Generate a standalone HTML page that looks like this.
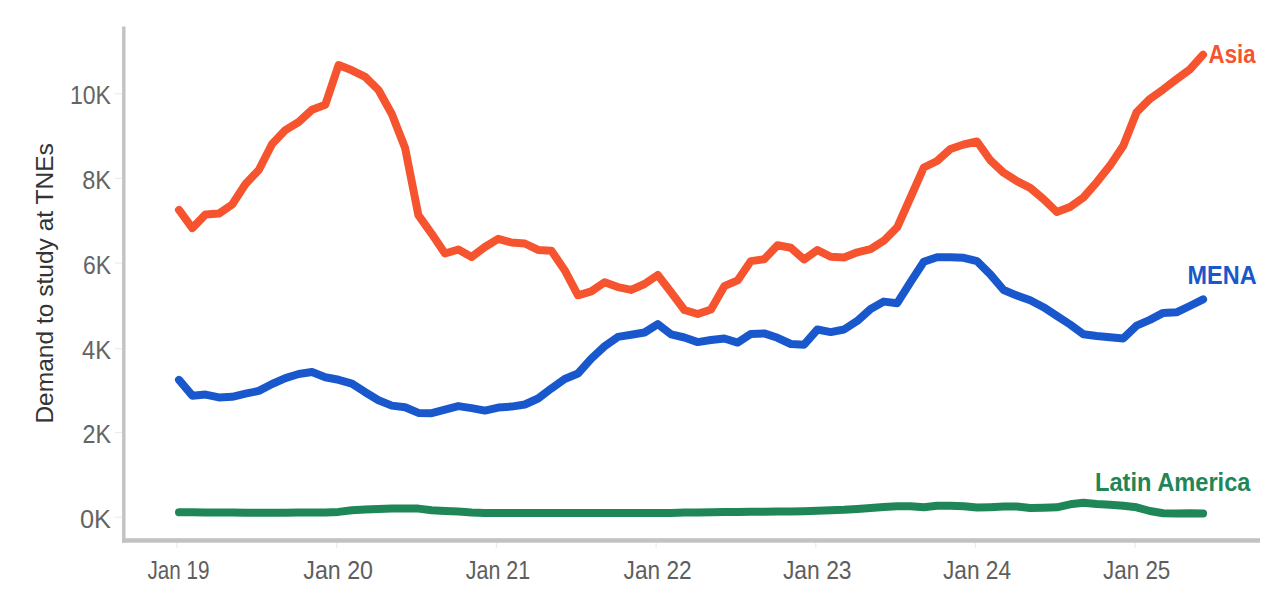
<!DOCTYPE html>
<html><head><meta charset="utf-8"><title>Demand to study at TNEs</title>
<style>
html,body{margin:0;padding:0;background:#fff;}
body{width:1280px;height:606px;overflow:hidden;}
svg{display:block;}
text{font-family:"Liberation Sans",Arial,sans-serif;}
.yl{font-size:25.4px;fill:#646464;}
.xl{font-size:25.4px;fill:#5e5e5e;}
.tt{font-size:24px;fill:#333;}
.lb{font-size:25.5px;font-weight:bold;}
</style></head><body>
<svg width="1280" height="606" viewBox="0 0 1280 606">
<line x1="115" y1="93.7" x2="122" y2="93.7" stroke="#ebebeb" stroke-width="1.2"/>
<text x="70.0" y="104.1" textLength="41" lengthAdjust="spacingAndGlyphs" class="yl">10K</text>
<line x1="115" y1="178.4" x2="122" y2="178.4" stroke="#ebebeb" stroke-width="1.2"/>
<text x="82.2" y="188.8" textLength="28.8" lengthAdjust="spacingAndGlyphs" class="yl">8K</text>
<line x1="115" y1="263.1" x2="122" y2="263.1" stroke="#ebebeb" stroke-width="1.2"/>
<text x="82.9" y="273.5" textLength="28.1" lengthAdjust="spacingAndGlyphs" class="yl">6K</text>
<line x1="115" y1="348.7" x2="122" y2="348.7" stroke="#ebebeb" stroke-width="1.2"/>
<text x="82.0" y="359.1" textLength="29" lengthAdjust="spacingAndGlyphs" class="yl">4K</text>
<line x1="115" y1="432.5" x2="122" y2="432.5" stroke="#ebebeb" stroke-width="1.2"/>
<text x="82.5" y="442.9" textLength="28.5" lengthAdjust="spacingAndGlyphs" class="yl">2K</text>
<line x1="115" y1="517.2" x2="122" y2="517.2" stroke="#ebebeb" stroke-width="1.2"/>
<text x="80.0" y="527.6" textLength="31" lengthAdjust="spacingAndGlyphs" class="yl">0K</text>
<line x1="177.0" y1="543" x2="177.0" y2="548" stroke="#ebebeb" stroke-width="1.2"/>
<text x="147.4" y="578.7" textLength="62.2" lengthAdjust="spacingAndGlyphs" class="xl">Jan 19</text>
<line x1="336.7" y1="543" x2="336.7" y2="548" stroke="#ebebeb" stroke-width="1.2"/>
<text x="303.3" y="578.7" textLength="69.7" lengthAdjust="spacingAndGlyphs" class="xl">Jan 20</text>
<line x1="496.4" y1="543" x2="496.4" y2="548" stroke="#ebebeb" stroke-width="1.2"/>
<text x="465.8" y="578.7" textLength="64.3" lengthAdjust="spacingAndGlyphs" class="xl">Jan 21</text>
<line x1="656.1" y1="543" x2="656.1" y2="548" stroke="#ebebeb" stroke-width="1.2"/>
<text x="623.6" y="578.7" textLength="68" lengthAdjust="spacingAndGlyphs" class="xl">Jan 22</text>
<line x1="815.8" y1="543" x2="815.8" y2="548" stroke="#ebebeb" stroke-width="1.2"/>
<text x="782.9" y="578.7" textLength="68.7" lengthAdjust="spacingAndGlyphs" class="xl">Jan 23</text>
<line x1="975.5" y1="543" x2="975.5" y2="548" stroke="#ebebeb" stroke-width="1.2"/>
<text x="943.0" y="578.7" textLength="68.1" lengthAdjust="spacingAndGlyphs" class="xl">Jan 24</text>
<line x1="1135.2" y1="543" x2="1135.2" y2="548" stroke="#ebebeb" stroke-width="1.2"/>
<text x="1103.1" y="578.7" textLength="67.2" lengthAdjust="spacingAndGlyphs" class="xl">Jan 25</text>
<rect x="122.1" y="26.5" width="3.4" height="516.2" fill="#c2c2c2"/>
<rect x="122.1" y="538.2" width="1137.9" height="4.5" fill="#c2c2c2"/>
<text transform="translate(53.1 423.6) rotate(-90)" textLength="280.4" lengthAdjust="spacingAndGlyphs" class="tt">Demand to study at TNEs</text>
<polyline points="179.0,512.2 192.3,512.3 205.6,512.4 218.9,512.5 232.2,512.6 245.5,512.7 258.8,512.7 272.1,512.7 285.4,512.7 298.7,512.6 312.0,512.6 325.3,512.6 338.6,511.9 351.9,510.2 365.2,509.5 378.5,509.1 391.8,508.6 405.1,508.4 418.4,508.6 431.7,510.2 445.0,510.9 458.3,511.6 471.6,512.4 484.9,512.9 498.2,512.9 511.5,512.9 524.8,512.9 538.1,512.9 551.4,512.9 564.7,512.9 578.0,512.9 591.3,512.9 604.6,512.9 617.9,512.9 631.2,512.9 644.5,512.9 657.8,512.9 671.1,512.9 684.4,512.6 697.7,512.4 711.0,512.3 724.3,512.1 737.6,512.0 750.9,511.8 764.2,511.7 777.5,511.5 790.8,511.4 804.1,511.2 817.4,510.8 830.7,510.3 844.0,509.8 857.3,509.0 870.6,508.0 883.9,506.9 897.2,506.2 910.5,506.2 923.8,507.2 937.1,505.8 950.4,505.8 963.7,506.2 977.0,507.6 990.3,507.2 1003.6,506.6 1016.9,506.6 1030.2,508.0 1043.5,507.7 1056.8,507.3 1070.1,504.3 1083.4,502.8 1096.7,504.0 1110.0,504.7 1123.3,505.8 1136.6,507.3 1149.9,511.0 1163.2,513.2 1176.5,513.5 1189.8,513.2 1203.1,513.5" fill="none" stroke="#1F8657" stroke-width="8" stroke-linejoin="round" stroke-linecap="round"/>
<polyline points="179.0,379.9 192.3,395.7 205.6,394.6 218.9,397.4 232.2,396.8 245.5,393.6 258.8,390.9 272.1,384.0 285.4,378.1 298.7,374.0 312.0,372.0 325.3,377.2 338.6,379.8 351.9,383.6 365.2,392.2 378.5,400.2 391.8,405.6 405.1,407.2 418.4,412.9 431.7,413.2 445.0,409.6 458.3,406.1 471.6,408.1 484.9,410.6 498.2,407.6 511.5,406.6 524.8,404.5 538.1,398.5 551.4,388.4 564.7,379.0 578.0,373.5 591.3,358.6 604.6,346.3 617.9,336.9 631.2,334.8 644.5,332.5 657.8,324.2 671.1,334.4 684.4,337.5 697.7,342.1 711.0,340.0 724.3,338.5 737.6,342.6 750.9,333.9 764.2,333.4 777.5,337.8 790.8,344.0 804.1,344.7 817.4,329.5 830.7,332.1 844.0,329.5 857.3,320.9 870.6,309.0 883.9,301.6 897.2,303.2 910.5,282.2 923.8,261.8 937.1,257.2 950.4,257.2 963.7,257.8 977.0,261.1 990.3,274.3 1003.6,290.0 1016.9,295.5 1030.2,300.2 1043.5,307.2 1056.8,315.8 1070.1,324.5 1083.4,334.3 1096.7,336.0 1110.0,337.2 1123.3,338.4 1136.6,325.6 1149.9,319.9 1163.2,312.9 1176.5,312.3 1189.8,306.0 1203.1,299.4" fill="none" stroke="#1858CC" stroke-width="8" stroke-linejoin="round" stroke-linecap="round"/>
<polyline points="179.0,209.9 192.3,228.1 205.6,214.4 218.9,213.6 232.2,204.5 245.5,184.0 258.8,170.0 272.1,144.0 285.4,130.1 298.7,122.0 312.0,109.8 325.3,104.7 338.6,65.0 351.9,70.3 365.2,76.8 378.5,90.0 391.8,114.0 405.1,148.0 418.4,215.2 431.7,233.8 445.0,253.5 458.3,249.5 471.6,257.0 484.9,247.0 498.2,238.8 511.5,242.5 524.8,243.5 538.1,249.9 551.4,250.7 564.7,270.2 578.0,295.3 591.3,291.4 604.6,282.3 617.9,287.1 631.2,289.9 644.5,284.0 657.8,275.0 671.1,292.2 684.4,310.0 697.7,314.0 711.0,309.5 724.3,286.2 737.6,280.4 750.9,261.1 764.2,259.2 777.5,245.3 790.8,247.7 804.1,259.5 817.4,250.0 830.7,256.8 844.0,257.5 857.3,252.3 870.6,249.1 883.9,240.7 897.2,227.3 910.5,197.5 923.8,167.5 937.1,161.0 950.4,149.0 963.7,144.5 977.0,141.5 990.3,160.3 1003.6,172.7 1016.9,181.1 1030.2,187.9 1043.5,199.1 1056.8,212.0 1070.1,206.9 1083.4,197.5 1096.7,182.3 1110.0,165.6 1123.3,145.7 1136.6,112.3 1149.9,98.9 1163.2,89.4 1176.5,79.3 1189.8,69.5 1203.1,54.7" fill="none" stroke="#F6532F" stroke-width="8" stroke-linejoin="round" stroke-linecap="round"/>
<text x="1208.6" y="63.1" textLength="46.9" lengthAdjust="spacingAndGlyphs" class="lb" fill="#F6532F">Asia</text>
<text x="1187.6" y="283.9" textLength="69" lengthAdjust="spacingAndGlyphs" class="lb" fill="#1858CC">MENA</text>
<text x="1095" y="491.2" textLength="155.5" lengthAdjust="spacingAndGlyphs" class="lb" fill="#1F8657">Latin America</text>
</svg>
</body></html>
